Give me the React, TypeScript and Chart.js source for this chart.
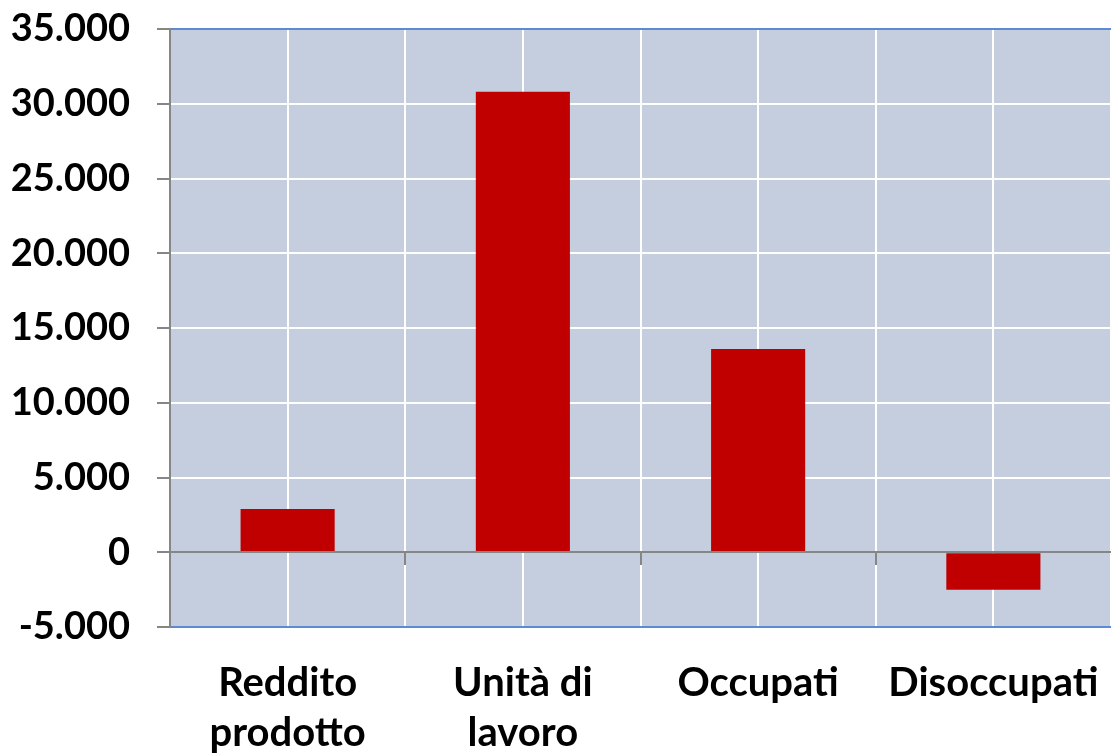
import React, { useEffect, useRef } from "react";
import { Chart, registerables } from "chart.js";

Chart.register(...registerables);

const categories: string[][] = [["Reddito", "prodotto"], ["Unità di", "lavoro"], ["Occupati"], ["Disoccupati"]];
const values: number[] = [2900, 30800, 13600, -2500];
const yMin = -5000;
const yMax = 35000;
const yStep = 5000;

const BG = "#C4CEDF";
const AXIS_GRAY = "#868686";
const BLUE = "#5B8BD0";
const BAR = "#C00000";
const FONT = "Lato, 'Open Sans', sans-serif";

function formatIt(v: number): string {
  const s = Math.abs(v).toFixed(0).replace(/\B(?=(\d{3})+(?!\d))/g, ".");
  return (v < 0 ? "-" : "") + s;
}

const plotDecor = {
  id: "plotDecor",
  beforeDraw(chart: any) {
    const { ctx, chartArea } = chart;
    ctx.save();
    ctx.fillStyle = BG;
    ctx.fillRect(chartArea.left, chartArea.top, chartArea.right - chartArea.left, chartArea.bottom - chartArea.top);
    ctx.restore();
  },
  beforeDatasetsDraw(chart: any) {
    const { ctx, chartArea, scales } = chart;
    const x = scales.x;
    ctx.save();
    ctx.strokeStyle = "#FFFFFF";
    ctx.lineWidth = 2;
    for (let i = 0; i < categories.length; i++) {
      const px = Math.round(x.getPixelForValue(i));
      ctx.beginPath();
      ctx.moveTo(px, chartArea.top);
      ctx.lineTo(px, chartArea.bottom);
      ctx.stroke();
    }
    ctx.restore();
  },
  afterDatasetsDraw(chart: any) {
    const { ctx, chartArea, scales } = chart;
    const x = scales.x;
    const y = scales.y;
    ctx.save();
    const y0 = Math.round(y.getPixelForValue(0));
    ctx.strokeStyle = AXIS_GRAY;
    ctx.lineWidth = 2;
    ctx.beginPath();
    ctx.moveTo(chartArea.left, y0);
    ctx.lineTo(chartArea.right, y0);
    ctx.stroke();
    for (let i = 1; i < categories.length; i++) {
      const bx = Math.round((x.getPixelForValue(i - 1) + x.getPixelForValue(i)) / 2);
      ctx.beginPath();
      ctx.moveTo(bx, y0);
      ctx.lineTo(bx, y0 + 13);
      ctx.stroke();
    }
    ctx.strokeStyle = BLUE;
    ctx.lineWidth = 2;
    const yt = Math.round(y.getPixelForValue(yMax));
    const yb = Math.round(y.getPixelForValue(yMin));
    ctx.beginPath();
    ctx.moveTo(chartArea.left, yt);
    ctx.lineTo(chartArea.right, yt);
    ctx.moveTo(chartArea.left, yb);
    ctx.lineTo(chartArea.right, yb);
    ctx.stroke();
    ctx.strokeStyle = AXIS_GRAY;
    ctx.beginPath();
    ctx.moveTo(chartArea.left, chartArea.top - 1);
    ctx.lineTo(chartArea.left, chartArea.bottom + 1);
    ctx.stroke();
    ctx.restore();
  },
};

export default function App() {
  const canvasRef = useRef<HTMLCanvasElement | null>(null);

  useEffect(() => {
    document.body.style.margin = "0";
    const canvas = canvasRef.current;
    if (!canvas) return;
    const chart = new Chart(canvas, {
      type: "bar",
      data: {
        labels: categories,
        datasets: [
          {
            data: values,
            backgroundColor: BAR,
            borderWidth: 0,
            barPercentage: 0.4,
            categoryPercentage: 1,
          },
        ],
      },
      options: {
        animation: false,
        responsive: true,
        maintainAspectRatio: false,
        layout: { padding: { top: 29, right: 0, left: 0, bottom: 0 } },
        plugins: {
          legend: { display: false },
          tooltip: { enabled: false },
        },
        scales: {
          x: {
            type: "category",
            offset: true,
            grid: {
              offset: true,
              color: "#FFFFFF",
              lineWidth: 2,
              drawTicks: false,
            },
            border: { display: false },
            ticks: {
              color: "#000000",
              font: { family: FONT, size: 40, weight: "bold", lineHeight: "50px" },
              padding: 31,
              maxRotation: 0,
              minRotation: 0,
              autoSkip: false,
            },
            afterFit(scale: any) {
              scale.height = 126;
              scale.paddingLeft = 0;
              scale.paddingRight = 0;
            },
          },
          y: {
            min: yMin,
            max: yMax,
            ticks: {
              stepSize: yStep,
              color: "#000000",
              font: { family: FONT, size: 38, weight: "bold" },
              padding: 27,
              callback: (v: any) => formatIt(Number(v)),
            },
            grid: {
              color: "#FFFFFF",
              lineWidth: 2,
              tickLength: 13,
              tickColor: AXIS_GRAY,
              tickWidth: 2,
            },
            border: { display: true, color: AXIS_GRAY, width: 2 },
            afterFit(scale: any) {
              scale.width = 170;
              scale.paddingTop = 0;
              scale.paddingBottom = 0;
            },
          },
        },
      },
      plugins: [plotDecor],
    });
    return () => chart.destroy();
  }, []);

  return (
    <div style={{ width: 1111, height: 753, position: "relative" }}>
      <canvas ref={canvasRef} />
    </div>
  );
}
